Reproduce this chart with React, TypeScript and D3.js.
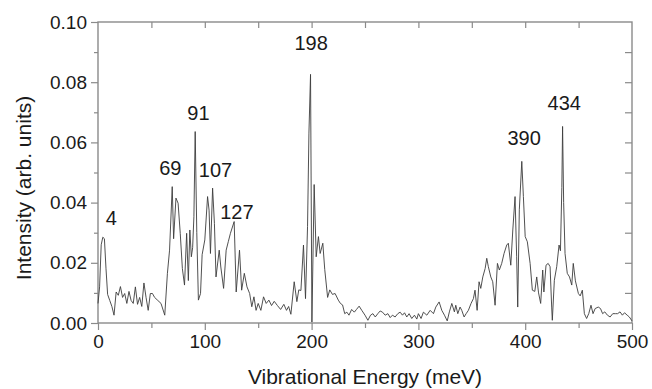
import React, { useRef, useEffect } from 'react';
import * as d3 from 'd3';

// spectrum: energy (meV) and intensity (arb. units)
const energy = [
  0, 1.5, 3, 4.5, 6, 7.5, 9, 11, 13, 15, 17, 19, 21, 23, 25, 27, 29, 31, 33, 35,
  37, 39, 41, 43, 45, 47, 49, 51, 53, 56, 59, 62.5, 65, 67, 69.5, 70.8, 73, 75, 77, 79,
  81, 83, 84.6, 86, 87.4, 88.6, 89.8, 91, 92.5, 94, 96, 97.5, 100, 102.6, 104, 105.3, 107.3, 109, 110.5, 113.5,
  115, 117.6, 120, 122, 124, 127.5, 129.4, 132.5, 134.5, 137, 139.5, 142, 144, 146, 148, 150, 152.5, 155, 157.5, 160,
  162.5, 165, 168, 171, 174, 176.5, 178.5, 180.6, 183.7, 186.2, 188, 190, 192.4, 194.3, 196.2, 197.5, 199, 200.3, 202.4, 204.3,
  206.4, 208, 210.5, 212.3, 215, 217, 219.5, 222, 225, 227, 229, 231, 233, 235, 237.5, 240, 242, 244.5, 247, 250,
  252.7, 255.2, 257.4, 259.6, 262, 264.2, 266.4, 268.9, 271.4, 273.6, 275.7, 278.2, 280.7, 282.9, 285.1, 287, 289.1, 291.3, 293.8, 296.3,
  298.5, 300, 302.5, 304.7, 307.9, 311, 314.1, 316.3, 319.4, 321.9, 324.4, 327, 329, 331.3, 333.7, 335, 336.9, 339, 340.6, 342.8,
  344.7, 346.8, 349.3, 351.5, 353, 355, 356.8, 358.4, 360.3, 362.5, 364, 365.5, 367.8, 369.6, 371.8, 374, 375.8, 378, 380.2, 382.7,
  384.2, 386.5, 388.4, 390.5, 392, 393, 394.5, 396.8, 398.3, 400, 402, 404.6, 406.7, 409, 410.8, 412.5, 414.5, 416.4, 417.5, 419.5,
  421.5, 423.3, 424.8, 425.4, 427.3, 429.5, 431.7, 433, 434.3, 435, 436, 437.3, 439.4, 441.5, 443.6, 445, 447, 449.8, 451.5, 453.5,
  455.4, 457.5, 459.5, 461.6, 463.5, 465.5, 468.4, 470.5, 472.5, 474.5, 477, 479.5, 482, 484.5, 486.5, 488.8, 491, 493, 495.5, 497.5,
  500,
];

const intensity = [
  0.0065, 0.012, 0.026, 0.0285, 0.028, 0.018, 0.0095, 0.0075, 0.0055, 0.0026, 0.0103, 0.0092, 0.0121, 0.0085, 0.0098, 0.0065, 0.0105, 0.0075, 0.0065, 0.012,
  0.0062, 0.0085, 0.0055, 0.0133, 0.0085, 0.0042, 0.0098, 0.0098, 0.0085, 0.0075, 0.0065, 0.0026, 0.0165, 0.0242, 0.0453, 0.028, 0.0415, 0.0398, 0.0298, 0.0181,
  0.0126, 0.0298, 0.0141, 0.0309, 0.022, 0.025, 0.0353, 0.0636, 0.03, 0.0076, 0.0098, 0.0227, 0.0276, 0.042, 0.0375, 0.0231, 0.0448, 0.0331, 0.0153, 0.0242,
  0.0186, 0.0115, 0.0242, 0.027, 0.0298, 0.0337, 0.0103, 0.0242, 0.0109, 0.0165, 0.012, 0.0098, 0.0054, 0.0087, 0.0042, 0.0065, 0.0042, 0.0087, 0.0065, 0.0076,
  0.0058, 0.0072, 0.0058, 0.0045, 0.0062, 0.0042, 0.0055, 0.0029, 0.0137, 0.0071, 0.011, 0.0108, 0.0259, 0.0081, 0.032, 0.0631, 0.0826, 0.0003, 0.046, 0.022,
  0.0287, 0.0231, 0.0265, 0.0178, 0.0085, 0.011, 0.0095, 0.0098, 0.0076, 0.0065, 0.006, 0.0031, 0.0036, 0.0026, 0.0045, 0.0036, 0.0045, 0.0056, 0.0042, 0.0026,
  0.0009, 0.0026, 0.0031, 0.002, 0.0031, 0.004, 0.0036, 0.0026, 0.0031, 0.0018, 0.0026, 0.002, 0.0031, 0.0036, 0.0026, 0.0034, 0.002, 0.0031, 0.0015, 0.0026,
  0.0013, 0.0031, 0.0015, 0.0036, 0.0026, 0.0042, 0.0031, 0.0053, 0.007, 0.0042, 0.0026, 0.0007, 0.0037, 0.0065, 0.0037, 0.0059, 0.0031, 0.0053, 0.0042, 0.002,
  0.0031, 0.0042, 0.0065, 0.0081, 0.0109, 0.0042, 0.0137, 0.0115, 0.0153, 0.0181, 0.0215, 0.0187, 0.0153, 0.0137, 0.0059, 0.0198, 0.0176, 0.0198, 0.0231, 0.0259,
  0.0265, 0.0192, 0.0309, 0.042, 0.022, 0.0053, 0.0376, 0.0537, 0.042, 0.0287, 0.027, 0.0198, 0.0109, 0.0105, 0.0153, 0.01, 0.0065, 0.0176, 0.0103, 0.0192,
  0.0198, 0.0187, 0.0053, 0.0009, 0.0142, 0.0187, 0.0259, 0.024, 0.045, 0.0653, 0.04, 0.0231, 0.0165, 0.0153, 0.0126, 0.0198, 0.014, 0.0098, 0.009, 0.0109,
  0.0031, 0.0015, 0.0031, 0.0059, 0.0031, 0.0048, 0.0053, 0.0048, 0.0031, 0.0037, 0.0026, 0.002, 0.0031, 0.0031, 0.0031, 0.0037, 0.0026, 0.0034, 0.0026, 0.002,
  0.0007,
];

// peak annotations (label anchor in data units)
const peakLabels = ['4', '69', '91', '107', '127', '198', '390', '434'];
const labelE = [12.5, 67.7, 94, 110, 130, 199.6, 399, 436.6];
const labelI = [0.0349, 0.0515, 0.0698, 0.0509, 0.037, 0.0932, 0.0615, 0.0731];

const xTicks = [0, 100, 200, 300, 400, 500];
const yTicks = [0, 0.02, 0.04, 0.06, 0.08, 0.1];

const App: React.FC = () => {
  const svgRef = useRef<SVGSVGElement | null>(null);

  useEffect(() => {
    const width = 652;
    const height = 389;
    const margin = { top: 22, right: 20, bottom: 66, left: 98 };
    const font = '"Liberation Sans", Arial, Helvetica, sans-serif';
    const axisColor = '#8a8a8a';
    const ink = '#1a1a1a';

    const svg = d3.select(svgRef.current)
      .attr('width', width)
      .attr('height', height)
      .style('background', '#fff');
    svg.selectAll('*').remove();

    const x = d3.scaleLinear().domain([0, 500]).range([margin.left, width - margin.right]);
    const y = d3.scaleLinear().domain([0, 0.1]).range([height - margin.bottom, margin.top]);

    const style = (g: d3.Selection<SVGGElement, unknown, null, undefined>) => {
      g.select('.domain').remove();
      g.selectAll('line').attr('stroke', axisColor).attr('stroke-width', 1.2);
      g.selectAll('text')
        .attr('fill', ink)
        .style('font-family', font)
        .style('font-size', '19px');
    };

    // frame
    svg.append('rect')
      .attr('x', x(0))
      .attr('y', y(0.1))
      .attr('width', x(500) - x(0))
      .attr('height', y(0) - y(0.1))
      .attr('fill', 'none')
      .attr('stroke', axisColor)
      .attr('stroke-width', 1.4);

    // bottom
    svg.append('g')
      .attr('transform', `translate(0,${y(0)})`)
      .call(d3.axisBottom(x).tickValues(d3.range(50, 500, 100)).tickSize(5).tickFormat(() => ''))
      .call(style);
    svg.append('g')
      .attr('transform', `translate(0,${y(0)})`)
      .call(d3.axisBottom(x).tickValues(xTicks).tickSize(7).tickPadding(5).tickFormat(d3.format('d')))
      .call(style);

    // top
    svg.append('g')
      .attr('transform', `translate(0,${y(0.1)})`)
      .call(d3.axisBottom(x).tickValues(d3.range(50, 500, 50)).tickSize(6).tickFormat(() => ''))
      .call(style);

    // left
    svg.append('g')
      .attr('transform', `translate(${x(0)},0)`)
      .call(d3.axisLeft(y).tickValues([0.01, 0.03, 0.05, 0.07, 0.09]).tickSize(4).tickFormat(() => ''))
      .call(style);
    svg.append('g')
      .attr('transform', `translate(${x(0)},0)`)
      .call(d3.axisLeft(y).tickValues(yTicks).tickSize(7).tickPadding(4).tickFormat(d3.format('.2f')))
      .call(style);

    // right (ticks point inward)
    svg.append('g')
      .attr('transform', `translate(${x(500)},0)`)
      .call(d3.axisLeft(y).tickValues(d3.range(0.01, 0.1, 0.01)).tickSize(7).tickFormat(() => ''))
      .call(style);

    const line = d3.line<number>()
      .x((d, i) => x(energy[i]))
      .y(d => y(d));

    svg.append('path')
      .datum(intensity)
      .attr('fill', 'none')
      .attr('stroke', '#3c3c3c')
      .attr('stroke-width', 0.9)
      .attr('stroke-linejoin', 'round')
      .attr('d', line);

    svg.selectAll('.peak')
      .data(peakLabels)
      .enter()
      .append('text')
      .attr('class', 'peak')
      .attr('x', (d, i) => x(labelE[i]))
      .attr('y', (d, i) => y(labelI[i]))
      .attr('dy', '0.36em')
      .attr('text-anchor', 'middle')
      .attr('fill', ink)
      .style('font-family', font)
      .style('font-size', '20px')
      .text(d => d);

    svg.append('text')
      .attr('x', (x(0) + x(500)) / 2)
      .attr('y', 384)
      .attr('text-anchor', 'middle')
      .attr('fill', ink)
      .style('font-family', font)
      .style('font-size', '21px')
      .text('Vibrational Energy (meV)');

    svg.append('text')
      .attr('transform', 'translate(31,188) rotate(-90)')
      .attr('text-anchor', 'middle')
      .attr('fill', ink)
      .style('font-family', font)
      .style('font-size', '21px')
      .text('Intensity (arb. units)');
  }, []);

  return <svg ref={svgRef} style={{ position: 'absolute', left: 0, top: 0, display: 'block' }}></svg>;
};

export default App;
